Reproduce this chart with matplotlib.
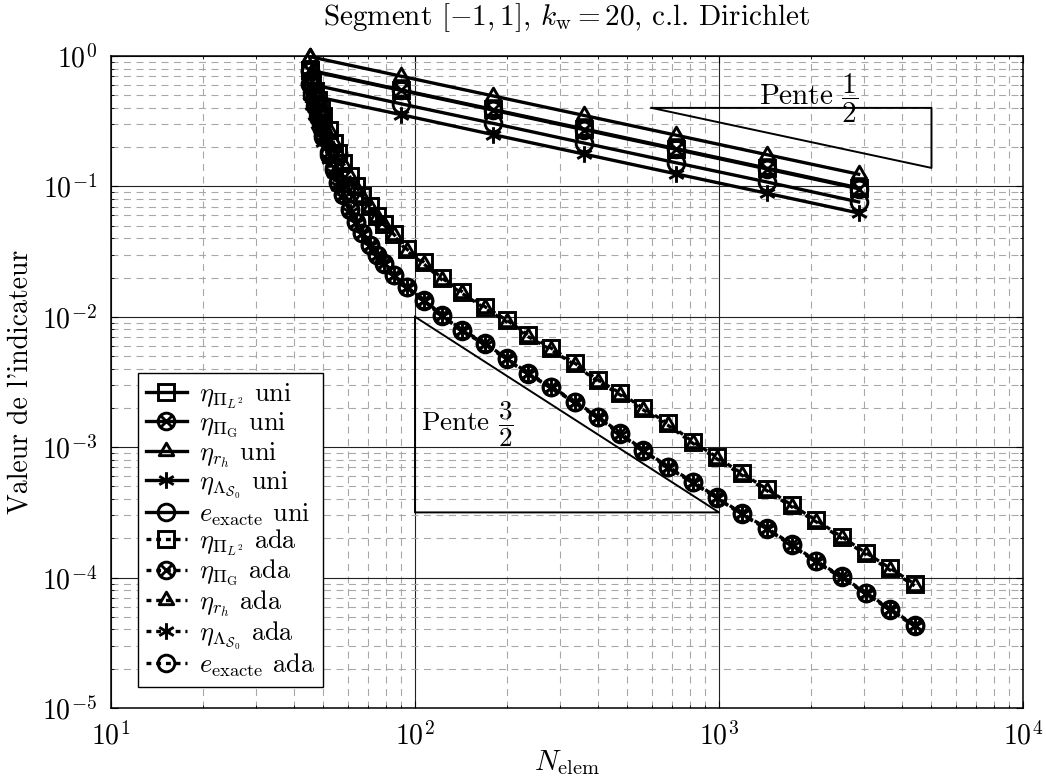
import numpy as np
import matplotlib
matplotlib.use("Agg")
import matplotlib.pyplot as plt
from matplotlib.path import Path
from matplotlib.ticker import LogLocator, NullFormatter

plt.rcParams['font.family'] = 'cmr10'
plt.rcParams['mathtext.fontset'] = 'cm'
plt.rcParams['axes.formatter.use_mathtext'] = True
plt.rcParams['lines.scale_dashes'] = False

# ---------------- data ----------------
N_uni = [45, 90, 180, 360, 720, 1440, 2880]
L2_uni = [0.78, 0.55, 0.39, 0.276, 0.195, 0.138, 0.0975]
PiG_uni = [0.77, 0.545, 0.385, 0.272, 0.1925, 0.136, 0.096]
rh_uni = [0.99, 0.70, 0.495, 0.35, 0.2475, 0.175, 0.124]
Lam_uni = [0.50, 0.355, 0.25, 0.177, 0.125, 0.0885, 0.0625]
ex_uni = [0.61, 0.43, 0.305, 0.215, 0.152, 0.108, 0.076]

N_ada = [45, 46, 47, 48, 49, 50, 52, 54, 56, 58, 61, 64, 67, 71, 75, 79, 85,
         94, 107, 123, 143, 170, 200, 236, 281, 336, 401, 474, 564, 680, 821,
         986, 1187, 1442, 1733, 2080, 2530, 3045, 3655, 4400]
L2_ada = [0.78, 0.645, 0.542, 0.462, 0.398, 0.346, 0.270, 0.217, 0.179, 0.151,
          0.121, 0.100, 0.0849, 0.0702, 0.0597, 0.0518, 0.0432,
          0.033, 0.0262, 0.0197, 0.01556, 0.01194, 0.00945, 0.00725, 0.00573,
          0.00440, 0.00327, 0.00259, 0.00199, 0.00152, 0.00110,
          8.37e-4, 6.31e-4, 4.76e-4, 3.60e-4, 2.77e-4, 2.06e-4, 1.55e-4,
          1.18e-4, 8.93e-5]
rh_ada = [0.99, 0.76, 0.60, 0.49, 0.41, 0.35, 0.27, 0.215, 0.177, 0.149,
          0.119, 0.098, 0.083, 0.069, 0.0585, 0.0508, 0.0424,
          0.032, 0.0254, 0.0191, 0.0151, 0.01158, 0.00917, 0.00703, 0.00556,
          0.00427, 0.00317, 0.00251, 0.00193, 0.00147, 0.00107,
          8.12e-4, 6.12e-4, 4.62e-4, 3.49e-4, 2.69e-4, 2.00e-4, 1.50e-4,
          1.14e-4, 8.66e-5]
PiG_ada = [0.769, 0.590, 0.464, 0.373, 0.305, 0.253, 0.1825, 0.1379, 0.1083,
           0.0878, 0.0671, 0.0536, 0.0443, 0.0357, 0.0299, 0.0257, 0.0211,
           0.0170, 0.01345, 0.01032, 0.00792, 0.00626, 0.00481, 0.00369,
           0.00291, 0.00223, 0.00171, 0.00128, 9.52e-4, 7.09e-4, 5.43e-4,
           4.13e-4, 3.11e-4, 2.39e-4, 1.80e-4, 1.35e-4, 1.02e-4, 7.66e-5,
           5.74e-5, 4.33e-5]
ex_ada = [0.61, 0.50, 0.41, 0.34, 0.285, 0.24, 0.175, 0.134, 0.106, 0.0865,
          0.0665, 0.0533, 0.0439, 0.0353, 0.0296, 0.0254, 0.0209,
          0.0168, 0.0133, 0.01022, 0.00784, 0.0062, 0.00476, 0.00365,
          0.00288, 0.00221, 0.00169, 0.00127, 9.42e-4, 7.02e-4, 5.38e-4,
          4.09e-4, 3.08e-4, 2.37e-4, 1.78e-4, 1.34e-4, 1.01e-4, 7.58e-5,
          5.68e-5, 4.29e-5]
Lam_ada = [0.50, 0.42, 0.355, 0.30, 0.255, 0.22, 0.163, 0.127, 0.101, 0.083,
           0.064, 0.052, 0.0435, 0.035, 0.0293, 0.0252, 0.0207,
           0.0167, 0.0132, 0.0101, 0.00776, 0.00613, 0.00471, 0.00362,
           0.00285, 0.00219, 0.00168, 0.00125, 9.33e-4, 6.95e-4, 5.32e-4,
           4.05e-4, 3.05e-4, 2.34e-4, 1.76e-4, 1.32e-4, 1.00e-4, 7.51e-5,
           5.63e-5, 4.24e-5]

# slope triangles
slope_half_x = [600, 5000]
slope_half_y = [0.4, 0.1386]
slope_3half_x = [100, 1000]
slope_3half_y = [1e-2, 3.162e-4]

# ---------------- markers ----------------
c = np.sqrt(0.5)
otimes = Path.make_compound_path(
    Path.unit_circle(),
    Path([(-c, -c), (c, c), (-c, c), (c, -c)],
         [Path.MOVETO, Path.LINETO, Path.MOVETO, Path.LINETO]))
ast_v, ast_c = [], []
for a in np.deg2rad([90, 30, 150]):
    ast_v += [(np.cos(a), np.sin(a)), (-np.cos(a), -np.sin(a))]
    ast_c += [Path.MOVETO, Path.LINETO]
asterisk = Path(ast_v, ast_c)
tri = Path([(0, 1), (-0.866, -0.5), (0.866, -0.5), (0, 1)],
           [Path.MOVETO, Path.LINETO, Path.LINETO, Path.CLOSEPOLY])

# ---------------- figure ----------------
fig = plt.figure(figsize=(10.46, 7.79), dpi=100)
ax = fig.add_axes([111/1046, 1-708/779, 912/1046, 652/779])
ax.set_xscale('log')
ax.set_yscale('log')
ax.set_xlim(10, 1e4)
ax.set_ylim(1e-5, 1)

ms = 12
mew = 2.1
lw = 2.4
common = dict(color='k', mfc='none', mec='k', ms=ms, mew=mew, lw=lw, clip_on=False, zorder=3)
dash = (0, (3.5, 3.5))

series = [
    (N_uni, L2_uni, 's', '-', r"$\eta_{\Pi_{L^2}}$ uni"),
    (N_uni, PiG_uni, otimes, '-', r"$\eta_{\Pi_{\mathrm{G}}}$ uni"),
    (N_uni, rh_uni, tri, '-', r"$\eta_{r_h}$ uni"),
    (N_uni, Lam_uni, asterisk, '-', r"$\eta_{\Lambda_{\mathcal{S}_0}}$ uni"),
    (N_uni, ex_uni, 'o', '-', r"$e_{\mathrm{exacte}}$ uni"),
    (N_ada, L2_ada, 's', dash, r"$\eta_{\Pi_{L^2}}$ ada"),
    (N_ada, PiG_ada, otimes, dash, r"$\eta_{\Pi_{\mathrm{G}}}$ ada"),
    (N_ada, rh_ada, tri, dash, r"$\eta_{r_h}$ ada"),
    (N_ada, Lam_ada, asterisk, dash, r"$\eta_{\Lambda_{\mathcal{S}_0}}$ ada"),
    (N_ada, ex_ada, 'o', dash, r"$e_{\mathrm{exacte}}$ ada"),
]
for xs, ys, mk, ls, lab in series:
    ax.plot(xs, ys, marker=mk, ls=ls, label=lab, **common)

# slope triangles
ax.plot([slope_half_x[0], slope_half_x[1], slope_half_x[1], slope_half_x[0]],
        [slope_half_y[0], slope_half_y[0], slope_half_y[1], slope_half_y[0]],
        color='k', lw=1.4, zorder=2.5)
ax.plot([slope_3half_x[0], slope_3half_x[0], slope_3half_x[1], slope_3half_x[0]],
        [slope_3half_y[0], slope_3half_y[1], slope_3half_y[1], slope_3half_y[0]],
        color='k', lw=1.4, zorder=2.5)
ax.text(1977, 0.47, r"Pente $\dfrac{1}{2}$", fontsize=21, ha='center', va='center')
ax.text(149, 1.5e-3, r"Pente $\dfrac{3}{2}$", fontsize=19.5, ha='center', va='center')

# grid & ticks
ax.xaxis.set_minor_locator(LogLocator(base=10, subs=np.arange(2, 10), numticks=20))
ax.yaxis.set_minor_locator(LogLocator(base=10, subs=np.arange(2, 10), numticks=20))
ax.xaxis.set_minor_formatter(NullFormatter())
ax.yaxis.set_minor_formatter(NullFormatter())
ax.grid(which='major', color='#222222', lw=0.8, ls='-')
ax.grid(which='minor', color='#a8a8a8', lw=0.8, ls=(0, (5, 4)))
ax.set_axisbelow(True)
ax.tick_params(which='both', direction='in', top=True, right=True)
ax.tick_params(which='major', length=5, width=0.8, labelsize=20, pad=10)
ax.tick_params(which='minor', length=2.5, width=0.6)
for s in ax.spines.values():
    s.set_linewidth(1.1)

ax.set_xlabel(r"$N_{\mathrm{elem}}$", fontsize=21, labelpad=-2)
ax.set_ylabel("Valeur de l'indicateur", fontsize=20, labelpad=6)
ax.set_title(r"Segment $[-1,1]$, $k_{\mathrm{w}}=20$, c.l. Dirichlet", fontsize=21, pad=22)

leg = ax.legend(loc='lower left', bbox_to_anchor=(0.0296, 0.0322), borderaxespad=0,
                fontsize=19, frameon=True, fancybox=False, edgecolor='k', framealpha=1,
                handlelength=1.55, handletextpad=0.45, labelspacing=0.0, borderpad=0.3)
leg.get_frame().set_linewidth(1.0)
leg.set_zorder(10)

fig.savefig("out.png", dpi=100)
